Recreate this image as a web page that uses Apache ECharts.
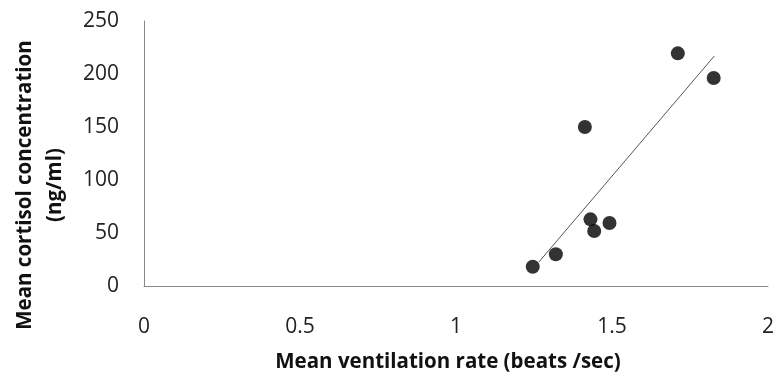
<!DOCTYPE html>
<html>
<head>
<meta charset="utf-8">
<script src="https://cdn.jsdelivr.net/npm/echarts@6/dist/echarts.min.js"></script>
<style>html,body{margin:0;padding:0;background:#fff}#c{width:777px;height:376px}</style>
</head>
<body>
<div id="c"></div>
<script>
var ventilation = [1.246, 1.320, 1.413, 1.431, 1.443, 1.492, 1.711, 1.826];
var cortisol = [18.2, 29.9, 150, 62.9, 51.9, 59.4, 219.5, 196.2];
var trendX = [1.265, 1.828];
var trendY = [22.4, 217];
var xTitle = 'Mean ventilation rate (beats /sec)';
var yTitle1 = 'Mean cortisol concentration';
var yTitle2 = '(ng/ml)';

var pts = ventilation.map(function(v, i){ return [v, cortisol[i]]; });
var trend = trendX.map(function(v, i){ return [v, trendY[i]]; });
var font = '"Open Sans", sans-serif';
var titleFont = 'bold 20.5px "Open Sans", sans-serif';
var chart = echarts.init(document.getElementById('c'), null, {renderer: 'canvas'});
chart.setOption({
  animation: false,
  grid: {left: 144, right: 4, top: 21, bottom: 90},
  xAxis: {
    type: 'value', min: 0, max: 2, interval: 0.5,
    axisLine: {show: true, lineStyle: {color: '#888', width: 1}},
    axisTick: {show: false},
    splitLine: {show: false},
    axisLabel: {margin: 31, fontFamily: font, fontSize: 21, color: '#222'}
  },
  yAxis: {
    type: 'value', min: 0, max: 250, interval: 50,
    axisLine: {show: true, lineStyle: {color: '#888', width: 1}},
    axisTick: {show: false},
    splitLine: {show: false},
    axisLabel: {margin: 25, fontFamily: font, fontSize: 21, color: '#222'}
  },
  graphic: [
    {type: 'text', x: 448, y: 362, style: {text: xTitle, font: titleFont, fill: '#111', textAlign: 'center', textVerticalAlign: 'middle'}},
    {type: 'text', rotation: Math.PI/2, x: 25, y: 185, style: {text: yTitle1, font: titleFont, fill: '#111', textAlign: 'center', textVerticalAlign: 'middle'}},
    {type: 'text', rotation: Math.PI/2, x: 55, y: 185, style: {text: yTitle2, font: titleFont, fill: '#111', textAlign: 'center', textVerticalAlign: 'middle'}}
  ],
  series: [
    {type: 'line', data: trend, showSymbol: false, lineStyle: {color: '#555', width: 1}, z: 1},
    {type: 'scatter', data: pts, symbol: 'circle', symbolSize: 14, itemStyle: {color: '#000'}, z: 2}
  ]
});
</script>
</body>
</html>
